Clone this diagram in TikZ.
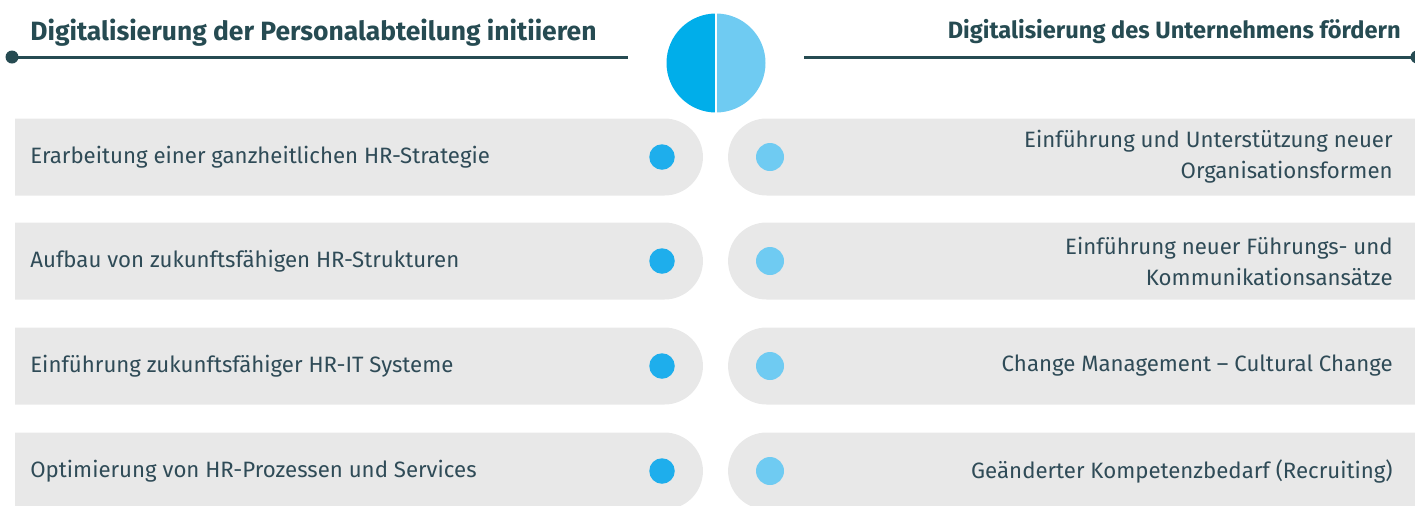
\documentclass[tikz,border=0pt]{standalone}
\usepackage{fontspec}
\setmainfont{Fira Sans}
\usetikzlibrary{shapes.misc}

\definecolor{headcol}{HTML}{264B52}
\definecolor{textcol}{HTML}{2F4B57}
\definecolor{boxgray}{HTML}{E8E8E8}
\definecolor{pieleft}{HTML}{00AEEA}
\definecolor{pieright}{HTML}{6FCBF2}
\definecolor{dotleft}{HTML}{1EAEEC}

\tikzset{
  rowbox/.style={fill=boxgray,rounded rectangle,minimum height=1.54cm,inner sep=0pt},
  rowtext/.style={text=textcol,font=\fontsize{12.65}{17.6}\selectfont,inner sep=0pt},
  headtext/.style={text=headcol,font=\bfseries\fontsize{#1}{#1}\selectfont,inner sep=0pt},
  headrule/.style={draw=headcol,line width=1.7pt},
  enddot/.style={circle,fill=headcol,minimum size=0.26cm,inner sep=0pt}
}

\begin{document}
\begin{tikzpicture}[line cap=round,line join=round,x=0.02cm,y=-0.02cm]
      \clip[use as bounding box] (0,0) rectangle (1415,505);

      % titles
      \node[headtext=15.05, anchor=base west] (lhead) at (30,40) {Digitalisierung der Personalabteilung initiieren};
      \node[headtext=13.45, anchor=base east] (rhead) at (1401,38) {Digitalisierung des Unternehmens fördern};

      \node[enddot] (ldot) at (12,57) {};
      \node[enddot] (rdot) at (1417,57) {};
      \coordinate (lend) at (628,57);
      \coordinate (rend) at (804,57);
      \draw[headrule,line cap=butt] (ldot.center) -- (lend);
      \draw[headrule,line cap=butt] (rend) -- (rdot.center);

      % pie
      \node[circle,minimum size=1.98cm,inner sep=0pt] (pie) at (716,63) {};
      \begin{scope}
        \clip ([xshift=-1.1cm,yshift=0.1cm]pie.north) rectangle ([yshift=-0.1cm]pie.south);
        \fill[pieleft] (pie.center) circle[radius=0.99cm];
      \end{scope}
      \begin{scope}
        \clip ([yshift=0.1cm]pie.north) rectangle ([xshift=1.1cm,yshift=-0.1cm]pie.south);
        \fill[pieright] (pie.center) circle[radius=0.99cm];
      \end{scope}
      \draw[white,line width=1.2pt,line cap=butt] (pie.north) -- (pie.south);

      % rows
      \foreach \i/\y/\ltext/\rtext in {
          1/157/{Erarbeitung einer ganzheitlichen HR-Strategie}/{Einführung und Unterstützung neuer\\Organisationsformen},
          2/261/{Aufbau von zukunftsfähigen HR-Strukturen}/{Einführung neuer Führungs- und\\Kommunikationsansätze},
          3/366/{Einführung zukunftsfähiger HR-IT Systeme}/{Change Management – Cultural Change},
          4/471/{Optimierung von HR-Prozessen und Services}/{Geänderter Kompetenzbedarf (Recruiting)}}{
        \node[rowbox,rounded rectangle left arc=none,minimum width=13.76cm] (lbox\i) at (359,\y) {};
        \node[rowbox,rounded rectangle right arc=none,minimum width=13.74cm] (rbox\i) at (1071.5,\y) {};
        \node[circle,fill=dotleft,minimum size=0.51cm,inner sep=0pt] (ldot\i) at (662,\y) {};
        \node[circle,fill=pieright,minimum size=0.56cm,inner sep=0pt] (rdot\i) at (770,\y) {};
        \node[rowtext,anchor=west] (ltext\i) at (30,\y) {\ltext};
        \node[rowtext,anchor=east,align=right] (rtext\i) at (1393,\y) {\rtext};
      }
    \end{tikzpicture}
\end{document}
